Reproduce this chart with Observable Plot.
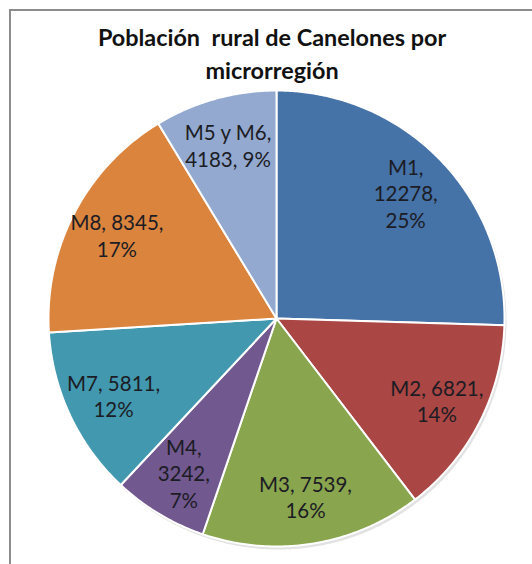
<!DOCTYPE html>
<html>
<head>
<meta charset="utf-8">
<script src="https://cdn.jsdelivr.net/npm/d3@7"></script>
<script src="https://cdn.jsdelivr.net/npm/@observablehq/plot@0.6"></script>
<style>
  html, body { margin: 0; padding: 0; background: #fff; overflow: hidden; }
  #wrap { position: relative; width: 532px; height: 564px; overflow: hidden; background: #fff; }
  #frame { position: absolute; left: 9px; top: 9px; width: 620px; height: 640px; border: 2px solid #8c8c8c; box-sizing: border-box; }
  #title { position: absolute; left: 62px; width: 420px; top: 21px; text-align: center;
           font-family: Lato, "Open Sans", sans-serif; font-weight: bold; font-size: 23.4px; line-height: 33px; color: #111; }
  #chart { position: absolute; left: 0; top: 0; }
</style>
</head>
<body>
<div id="wrap">
  <div id="frame"></div>
  <div id="chart"></div>
  <div id="title">Población&nbsp; rural de Canelones por<br>microrregión</div>
</div>
<script>
// Data
const names  = ["M1", "M2", "M3", "M4", "M7", "M8", "M5 y M6"];
const values = [12278, 6821, 7539, 3242, 5811, 8345, 4183];
const colors = ["#4572A7", "#AA4643", "#89A54E", "#71588F", "#4198AF", "#DB843D", "#93A9CF"];
// label wrap style: a = "name,\nvalue,\npct"; b = "name, value,\npct"; c = "name,\nvalue, pct"
const wraps  = ["a", "b", "b", "a", "b", "b", "c"];

const total = d3.sum(values);
const TAU = 2 * Math.PI;

// Build slice polygons from values (clockwise from 12 o'clock)
const slices = [];
const labels = [];
let cum = 0;
values.forEach((v, i) => {
  const a0 = cum / total * TAU;
  cum += v;
  const a1 = cum / total * TAU;
  const n = Math.max(2, Math.ceil((a1 - a0) / (Math.PI / 360)));
  slices.push({name: names[i], x: 0, y: 0});
  for (let k = 0; k <= n; k++) {
    const a = a0 + (a1 - a0) * k / n;
    slices.push({name: names[i], x: Math.sin(a), y: Math.cos(a)});
  }
  slices.push({name: names[i], x: 0, y: 0});
  const am = (a0 + a1) / 2;
  const r = 0.79;
  const pct = Math.round(v / total * 100) + "%";
  const w = wraps[i];
  const text = w === "a" ? `${names[i]},\n${v},\n${pct}`
             : w === "b" ? `${names[i]}, ${v},\n${pct}`
             : `${names[i]},\n${v}, ${pct}`;
  labels.push({x: r * Math.sin(am), y: r * Math.cos(am), text});
});

const cx = 276, cy = 318, R = 228;

const chart = Plot.plot({
  width: 532,
  height: 564,
  margin: 0,
  x: {domain: [-1, 1], range: [cx - R, cx + R], axis: null},
  y: {domain: [-1, 1], range: [cy + R, cy - R], axis: null},
  color: {domain: names, range: colors},
  style: {background: "transparent", overflow: "visible"},
  marks: [
    // soft shadow
    Plot.line(slices, {x: "x", y: "y", z: "name", fill: "#cfcfcf", fillOpacity: 0.6, stroke: "none", dx: 2, dy: 3}),
    Plot.line(slices, {x: "x", y: "y", z: "name", fill: "name", stroke: "white", strokeWidth: 2, strokeLinejoin: "round"}),
    Plot.text(labels, {x: "x", y: "y", text: "text", fill: "#1c1c24", fontSize: 20.5, lineHeight: 1.28,
      fontFamily: "Lato, 'Open Sans', sans-serif", textAnchor: "middle"})
  ]
});
document.getElementById("chart").appendChild(chart);
</script>
</body>
</html>
